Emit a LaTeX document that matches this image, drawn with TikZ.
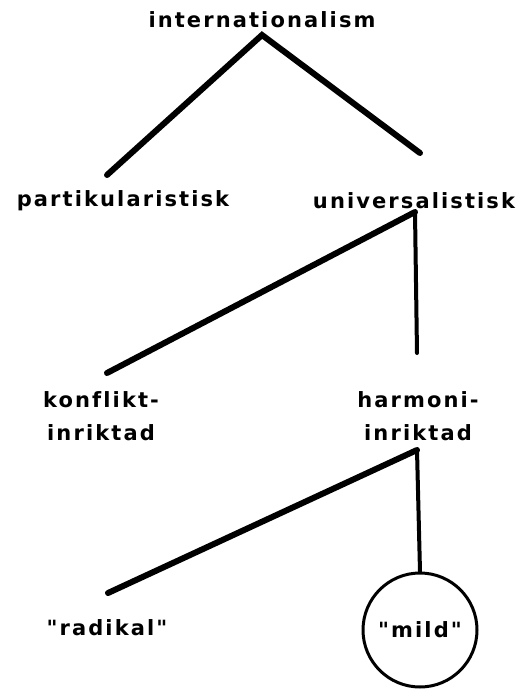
\documentclass[tikz,border=0pt]{standalone}
\usepackage{fontspec}
\newfontfamily\lbl[LetterSpace=10,Ligatures={NoCommon}]{DejaVu Sans Bold}
\begin{document}
\begin{tikzpicture}[x=1pt,y=-1pt,
  lab/.style={font=\lbl\fontsize{21}{33}\selectfont, inner sep=0pt, align=center},
  thick line/.style={line width=6pt, line cap=round},
  vert line/.style={line width=4pt, line cap=round}]
\useasboundingbox (0,0) rectangle (527,689);
\node[lab] (int) at (262,20) {internationalism};
\node[lab] (part) at (123,201) {partikularistisk};
\node[lab] (univ) at (414,201) {universalistisk};
\node[lab] (konf) at (101,416) {konflikt-\\inriktad};
\node[lab] (harm) at (418,416) {harmoni-\\inriktad};
\node[lab] (rad) at (107,628) {"radikal"};
\node[lab, circle, draw, line width=3pt, minimum size=114pt] (mild) at (420,630) {"mild"};
\coordinate (a1) at (262,35);
\coordinate (p1) at (107,175);
\coordinate (u1) at (420,153);
\coordinate (a2) at (415,212);
\coordinate (k1) at (107,373);
\coordinate (h1) at (417,353);
\coordinate (a3) at (417,450);
\coordinate (r1) at (108,593);
\draw[thick line] (p1) -- (a1) -- (u1);
\draw[thick line] (k1) -- (a2);
\draw[vert line] (a2) -- (h1);
\draw[thick line] (r1) -- (a3);
\draw[vert line] (a3) -- (mild.north);
\end{tikzpicture}
\end{document}
